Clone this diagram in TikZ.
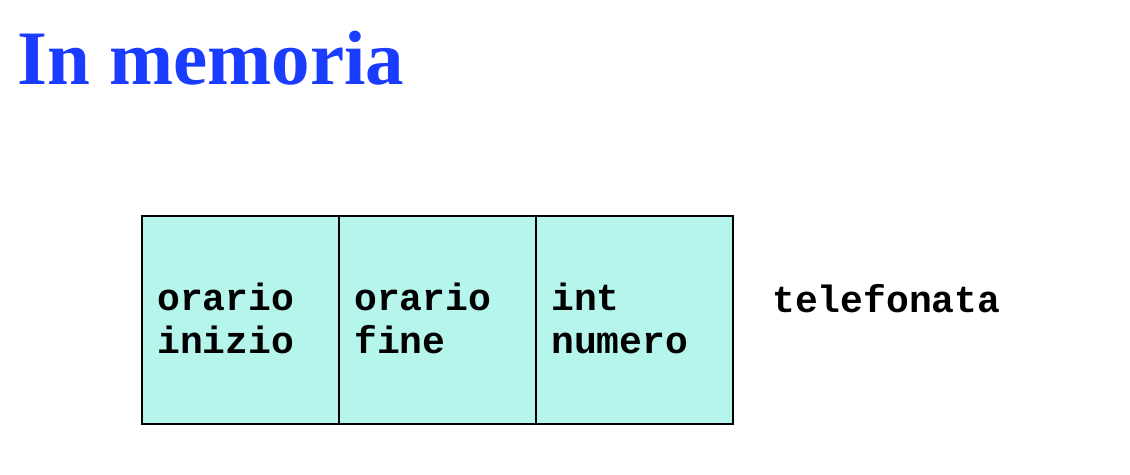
\documentclass[tikz,border=0pt]{standalone}
\usepackage{fontspec}
\setmainfont{Liberation Serif}
\setmonofont{Liberation Mono}
\usetikzlibrary{positioning}
\definecolor{titleblue}{RGB}{26,60,255}
\definecolor{cellfill}{RGB}{182,245,236}
\tikzset{
  cell/.style={rectangle, draw, line width=1.6pt, fill=cellfill, minimum width=197pt, minimum height=208pt, inner sep=0pt, outer sep=0pt},
  field/.style={font=\fontsize{38}{43}\selectfont\ttfamily\bfseries, align=left, inner sep=0pt, anchor=base west},
}

\begin{document}
\begin{tikzpicture}[x=1pt,y=-1pt]
  \useasboundingbox (0,0) rectangle (1130,474);

  % --- Title ---
  \node[anchor=base west, inner sep=0pt, font=\fontsize{77}{80}\selectfont\bfseries, text=titleblue] (title) at (17,84) {In memoria};

  % --- The record in memory ---
  \node[cell, anchor=north west] (c1) at (142,216) {};
  \node[cell, right=0pt of c1] (c2) {};
  \node[cell, right=0pt of c2] (c3) {};

  % Field names (base = last line)
  \node[field] (f1) at (157,353) {orario\\inizio};
  \node[field] (f2) at (354,353) {orario\\fine};
  \node[field] (f3) at (551,353) {int\\numero};

  % Type name
  \node[field] (tel) at (772,312) {telefonata};
\end{tikzpicture}
\end{document}
